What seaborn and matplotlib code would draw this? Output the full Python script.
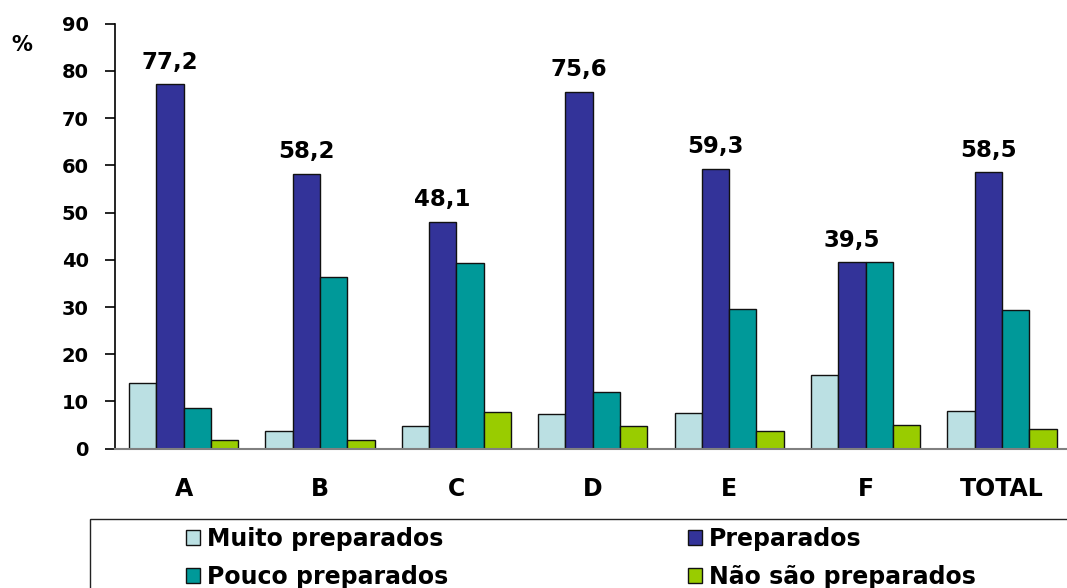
import matplotlib
matplotlib.use("Agg")
import matplotlib.pyplot as plt
from matplotlib.patches import Rectangle
import pandas as pd
import seaborn as sns

# Data: share (%) of each preparedness level per group
setores = ["A", "B", "C", "D", "E", "F", "TOTAL"]
niveis = ["Muito preparados", "Preparados", "Pouco preparados", "Não são preparados"]
muito_preparados = [14.0, 3.7, 4.9, 7.3, 7.5, 15.7, 8.0]
preparados = [77.2, 58.2, 48.1, 75.6, 59.3, 39.5, 58.5]
pouco_preparados = [8.7, 36.3, 39.3, 12.0, 29.6, 39.5, 29.3]
nao_preparados = [1.9, 1.8, 7.7, 4.9, 3.7, 5.1, 4.2]
y_ticks = [0, 10, 20, 30, 40, 50, 60, 70, 80, 90]
cores = ["#BBE0E3", "#333399", "#009999", "#99CC00"]

series = [muito_preparados, preparados, pouco_preparados, nao_preparados]
df = pd.DataFrame(
    [(s, n, v) for n, vals in zip(niveis, series) for s, v in zip(setores, vals)],
    columns=["setor", "nivel", "valor"],
)

sns.set_theme(style="white")
plt.rcParams["font.family"] = ["DejaVu Sans"]
plt.rcParams["font.weight"] = "bold"
plt.rcParams["text.color"] = "black"
plt.rcParams["xtick.labelcolor"] = "black"
plt.rcParams["ytick.labelcolor"] = "black"

fig = plt.figure(figsize=(10.67, 5.88), dpi=100)
ax = fig.add_axes([0.1081, 0.2369, 0.8949, 0.7228])

sns.barplot(
    data=df, x="setor", y="valor", hue="nivel",
    order=setores, hue_order=niveis, palette=cores, saturation=1,
    width=0.8, edgecolor="#111111", linewidth=1.0,
    errorbar=None, ax=ax,
)
handles, labels = ax.get_legend_handles_labels()
if ax.get_legend() is not None:
    ax.get_legend().remove()

# value labels on the "Preparados" bars
prep_container = ax.containers[niveis.index("Preparados")]
ax.bar_label(
    prep_container,
    labels=[f"{v:.1f}".replace(".", ",") for v in preparados],
    padding=7.5, fontsize=16.5, fontweight="bold", color="black",
)

ax.set_ylim(0, 90)
ax.set_yticks(y_ticks)
ax.set_yticklabels([str(t) for t in y_ticks], fontsize=14, fontweight="bold",
                   color="black")
ax.set_xlim(-0.5, len(setores) - 0.5)
ax.set_xticks(range(len(setores)))
ax.set_xticklabels(setores, fontsize=17, fontweight="bold", color="black")
ax.set_xticks([i - 0.5 for i in range(len(setores) + 1)], minor=True)
ax.tick_params(axis="x", which="major", length=0, pad=20.5)
ax.tick_params(axis="x", which="minor", length=6, width=1.2, color="#333333", direction="out")
ax.tick_params(axis="y", which="major", length=7.2, width=1.2, color="black",
               direction="out", pad=12, left=True)
ax.set_xlabel("")
ax.set_ylabel("")

for side in ("top", "right"):
    ax.spines[side].set_visible(False)
ax.spines["left"].set_color("black")
ax.spines["left"].set_linewidth(1.2)
ax.spines["bottom"].set_color("#808080")
ax.spines["bottom"].set_linewidth(1.5)
ax.grid(False)

fig.text(22 / 1067, 1 - 45 / 588, "%", fontsize=15, fontweight="bold",
         ha="center", va="center", color="black")

# legend frame running off the figure's bottom-right corner
fig.add_artist(Rectangle((90 / 1067, -0.1), 1.0, 0.1 + (588 - 519) / 588,
                         transform=fig.transFigure, fill=False,
                         edgecolor="#222222", linewidth=1.0))

leg_kw = dict(frameon=False, handlelength=0.6, handleheight=0.6,
              handletextpad=0.3, labelspacing=0.59, borderpad=0, borderaxespad=0,
              prop={"weight": "bold", "size": 17}, loc="center left",
              labelcolor="black")
col1 = [0, 2]
col2 = [1, 3]
leg1 = fig.legend([handles[i] for i in col1], [labels[i] for i in col1],
                  bbox_to_anchor=(186 / 1067, (588 - 558) / 588), **leg_kw)
leg2 = fig.legend([handles[i] for i in col2], [labels[i] for i in col2],
                  bbox_to_anchor=(688 / 1067, (588 - 558) / 588), **leg_kw)
for leg in (leg1, leg2):
    for h in leg.legend_handles:
        h.set_edgecolor("#111111")
        h.set_linewidth(1.0)

fig.savefig("out.png", dpi=100)
